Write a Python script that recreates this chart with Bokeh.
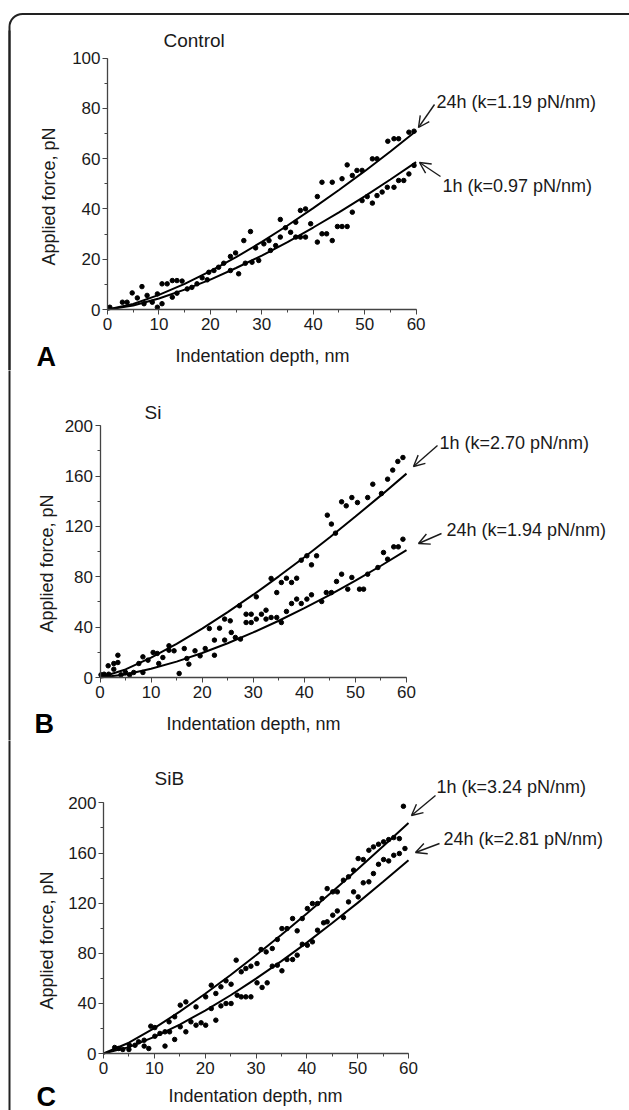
from math import pi
from bokeh.plotting import figure
from bokeh.models import (Range1d, SingleIntervalTicker, Label, Arrow, OpenHead,
                          BoxAnnotation)
from bokeh.layouts import column
from bokeh.embed import file_html
from bokeh.resources import INLINE

# ---------------- data ----------------
fit_depth = [0, 5, 10, 15, 20, 25, 30, 35, 40, 45, 50, 55, 60]

# Panel A - Control
ctrl_fit_24h = [0, 2.2, 5.8, 10.2, 15.3, 20.8, 26.9, 33.4, 40.3, 47.5, 55.0, 62.8, 71.0]
ctrl_fit_1h = [0, 1.6, 4.4, 7.9, 11.9, 16.5, 21.4, 26.8, 32.6, 38.6, 45.0, 51.7, 58.6]
ctrl_24h_x = [0.45, 2.9, 3.8, 4.8, 6.7, 7.7, 9.7, 10.6, 11.6, 12.6, 13.5, 14.5, 17.4, 18.4, 19.7,
              20.7, 21.6, 22.6, 23.9, 24.9, 26.5, 27.8, 28.8, 30.4, 31.4, 33.6, 34.6, 36.6, 37.5,
              38.5, 40.8, 41.7, 43.7, 45.6, 46.6, 47.6, 48.5, 49.5, 51.5, 52.4, 54.5, 55.7, 56.6,
              58.6, 59.6]
ctrl_24h_y = [0.9, 2.9, 2.9, 6.6, 9.1, 5.6, 6.2, 10.2, 10.2, 11.5, 11.5, 11.3, 10.2, 12.6, 14.8,
              15.5, 16.8, 18.4, 21.1, 22.5, 27.4, 31.0, 24.5, 26.1, 27.4, 35.8, 32.5, 34.7, 39.4,
              40.0, 44.9, 50.6, 50.6, 52.0, 57.5, 53.3, 55.3, 55.3, 59.9, 59.9, 66.9, 67.9, 67.9,
              70.5, 70.9]
ctrl_1h_x = [5.8, 7.1, 8.7, 9.7, 10.6, 12.6, 13.5, 15.5, 16.4, 19.4, 23.9, 25.5, 26.8, 28.1, 29.4,
             31.7, 32.7, 33.6, 35.6, 36.6, 37.5, 38.5, 39.5, 40.8, 41.7, 42.6, 43.7, 44.7, 45.6,
             46.6, 47.6, 49.5, 50.5, 51.5, 52.4, 53.4, 54.4, 55.7, 56.6, 57.6, 58.6, 59.6]
ctrl_1h_y = [4.6, 2.3, 2.9, 0.9, 2.3, 4.9, 6.5, 8.2, 8.8, 11.8, 15.5, 14.2, 18.4, 18.8, 19.5,
             23.5, 25.4, 28.8, 30.7, 28.8, 28.8, 28.8, 34.1, 26.8, 30.1, 30.1, 27.4, 33.0, 33.0,
             33.0, 38.7, 43.3, 44.9, 42.3, 45.3, 46.7, 48.6, 48.6, 51.3, 51.3, 53.9, 57.3]

# Panel B - Si
si_fit_1h = [0, 6.4, 15.8, 26.8, 38.9, 52.0, 65.8, 80.4, 95.6, 111.4, 127.9, 144.7, 162.0]
si_fit_24h = [0, 2.4, 6.9, 12.6, 19.5, 27.2, 35.8, 45.1, 55.1, 65.7, 77.0, 88.8, 101.2]
si_1h_x = [0.8, 1.6, 2.7, 3.5, 3.5, 7.6, 8.4, 9.4, 10.4, 11.2, 12.3, 13.5, 13.5, 14.5, 16.5, 21.4,
           22.4, 23.4, 24.4, 25.5, 27.3, 28.6, 29.6, 30.6, 31.6, 32.5, 33.5, 34.6, 35.5, 36.5,
           37.5, 38.5, 39.4, 40.5, 41.4, 42.4, 44.5, 45.3, 46.1, 47.3, 48.2, 49.3, 50.4, 52.4,
           53.4, 55.1, 56.3, 57.3, 58.3, 59.3]
si_1h_y = [2.6, 9.3, 11.1, 17.7, 11.9, 11.1, 16.4, 13.8, 19.9, 19.1, 15.9, 21.7, 25.2, 21.2, 23.0,
           38.9, 29.7, 39.2, 46.4, 45.0, 57.0, 50.3, 50.3, 64.1, 50.3, 53.5, 78.7, 67.5, 75.5,
           78.9, 75.5, 78.9, 93.2, 96.7, 89.5, 96.7, 129.0, 121.9, 114.7, 139.6, 136.4, 143.0,
           139.0, 143.0, 153.6, 146.2, 157.6, 164.8, 171.7, 174.8]
si_24h_x = [0.2, 1.7, 2.7, 4.1, 5.0, 5.8, 6.6, 8.4, 11.5, 15.5, 17.0, 17.4, 18.6, 19.6, 20.6, 22.4,
            24.4, 25.7, 26.5, 27.5, 28.6, 29.6, 30.6, 32.5, 33.5, 34.6, 35.5, 36.5, 37.5, 38.5,
            39.4, 40.5, 41.4, 43.4, 44.3, 45.3, 46.3, 47.3, 48.5, 49.3, 50.8, 51.6, 52.4, 54.4,
            55.5, 56.3, 57.5, 58.4, 59.3]
si_24h_y = [2.1, 2.6, 6.6, 2.1, 4.0, 2.1, 4.0, 4.0, 11.1, 3.2, 15.1, 10.6, 21.2, 17.2, 23.0, 17.7,
            29.7, 35.8, 31.8, 30.5, 43.7, 43.7, 46.4, 46.4, 47.7, 47.7, 43.7, 52.5, 58.8, 62.3,
            58.8, 62.3, 65.7, 60.4, 67.5, 67.5, 76.3, 82.1, 70.2, 79.5, 70.2, 70.2, 82.1, 87.4,
            99.3, 94.0, 103.8, 103.8, 109.9]

# Panel C - SiB
sib_fit_1h = [0, 8.6, 20.3, 33.4, 47.7, 62.6, 78.4, 94.8, 111.8, 129.1, 147.0, 165.4, 184.0]
sib_fit_24h = [0, 5.1, 13.3, 23.1, 34.3, 46.5, 59.7, 73.7, 88.5, 104.1, 120.2, 137.0, 154.3]
sib_1h_x = [2.2, 3.0, 5.1, 6.9, 8.0, 9.3, 10.1, 12.9, 14.0, 15.1, 16.2, 18.2, 20.1, 21.2, 22.1,
            23.1, 24.1, 25.1, 26.1, 27.1, 28.0, 29.0, 30.2, 31.0, 32.0, 33.2, 34.2, 35.1, 36.1,
            37.2, 39.1, 40.1, 41.1, 42.1, 43.0, 44.0, 45.1, 46.0, 47.2, 48.2, 49.2, 50.1, 51.1,
            52.2, 53.1, 54.1, 55.1, 56.1, 57.1, 58.2, 59.0]
sib_1h_y = [4.8, 4.0, 6.6, 9.3, 10.6, 21.8, 20.7, 25.3, 29.3, 38.6, 41.2, 37.2, 45.2, 54.5, 47.9,
            53.2, 58.0, 55.3, 74.5, 65.2, 67.8, 69.7, 71.8, 83.0, 81.1, 83.8, 91.0, 99.7, 99.7,
            107.7, 107.7, 115.7, 119.7, 119.7, 123.7, 131.6, 129.0, 129.0, 138.3, 141.0, 146.3,
            155.6, 154.8, 162.2, 164.9, 167.0, 168.9, 170.7, 172.3, 171.5, 197.3]
sib_24h_x = [3.8, 5.0, 6.2, 8.0, 8.9, 10.1, 11.1, 12.1, 12.1, 13.0, 14.0, 15.1, 16.2, 17.2, 18.2,
             19.2, 20.1, 21.2, 22.1, 23.1, 24.1, 25.1, 26.3, 27.1, 28.0, 29.0, 30.2, 31.2, 32.2,
             33.2, 34.2, 35.1, 36.1, 37.2, 38.1, 38.1, 39.1, 40.1, 41.1, 42.1, 43.3, 44.0, 45.1,
             46.0, 47.2, 48.2, 49.2, 50.1, 51.1, 52.2, 53.1, 54.1, 55.1, 56.1, 57.1, 58.2, 59.3]
sib_24h_y = [3.2, 3.2, 6.6, 5.9, 4.0, 13.8, 16.0, 17.3, 5.9, 17.3, 11.2, 21.3, 17.3, 25.3, 22.6,
             24.5, 22.6, 35.9, 26.6, 38.0, 39.9, 39.9, 46.5, 45.2, 45.2, 45.2, 56.4, 52.7, 56.4,
             69.7, 70.5, 66.0, 75.0, 75.0, 78.5, 97.9, 87.2, 86.4, 89.1, 98.4, 104.3, 105.1,
             110.4, 113.8, 108.5, 121.0, 129.0, 125.0, 136.2, 137.0, 143.6, 151.0, 154.8, 153.7,
             158.2, 159.6, 163.6]

panel_titles = ["Control", "Si", "SiB"]
panel_letters = ["A", "B", "C"]
x_title = "Indentation depth, nm"
y_title = "Applied force, pN"

# ---------------- styling / layout ----------------
FONT = "Liberation Sans"
INK = "#1a1a1a"
AXIS = "#444444"
FRAME = "#222222"
PAGE_W = 629
PAGE_X0 = 0


def make_panel(spec):
    (fig_top, fig_h, ax_left, ax_bottom, sx, sy, y_max, y_step,
     fits, pts, notes, title_pos, ylab_pos, xlab_pos, letter_pos, has_top) = spec
    # page pixel -> data coordinate helpers for this panel
    dx = lambda px: (px - ax_left) / sx
    dy = lambda py: (ax_bottom - py) / sy
    fig_bottom = fig_top + fig_h
    p = figure(width=PAGE_W, height=fig_h, output_backend="svg", toolbar_location=None,
               x_range=Range1d(dx(PAGE_X0), dx(PAGE_X0 + PAGE_W)),
               y_range=Range1d(dy(fig_bottom), dy(fig_top)),
               min_border_left=0, min_border_right=0, min_border_top=0,
               min_border_bottom=0)
    p.grid.visible = False
    p.outline_line_color = None
    p.background_fill_color = "white"
    p.border_fill_color = "white"
    for ax, step, bnd in ((p.xaxis[0], 10, (0, 60)), (p.yaxis[0], y_step, (0, y_max))):
        ax.fixed_location = 0
        ax.ticker = SingleIntervalTicker(interval=step, num_minor_ticks=2)
        ax.bounds = bnd
        ax.axis_line_color = AXIS
        ax.axis_line_width = 1.3
        ax.major_tick_line_color = AXIS
        ax.minor_tick_line_color = AXIS
        ax.major_tick_out = 5
        ax.major_tick_in = 0
        ax.minor_tick_out = 3
        ax.minor_tick_in = 0
        ax.major_label_text_font = FONT
        ax.major_label_text_font_size = "17px"
        ax.major_label_text_color = INK
    p.xaxis.major_label_standoff = 3
    p.yaxis.major_label_standoff = 2

    # outer frame of the whole figure: left edge through every panel,
    # rounded top-left corner and top edge in the first one
    edge_top = 30 if has_top else fig_top - 20
    p.segment(x0=[dx(9)], y0=[dy(edge_top)], x1=[dx(9)], y1=[dy(fig_bottom + 20)],
              line_color=FRAME, line_width=2)
    if has_top:
        p.add_layout(BoxAnnotation(left=dx(9), right=dx(640), top=dy(13.5), bottom=dy(1400),
                                   fill_alpha=0, line_color=FRAME, line_alpha=1.0,
                                   line_width=2, border_radius=(13, 0, 0, 0)))

    for ys in fits:
        p.line(fit_depth, ys, line_color="black", line_width=2)
    for xs, ys in pts:
        p.scatter(xs, ys, size=4.5, color="black")

    for text, tx, ty, (ax0, ay0, ax1, ay1) in notes:
        p.add_layout(Arrow(end=OpenHead(size=11, line_width=1.4, line_color=INK),
                           x_start=dx(ax0), y_start=dy(ay0), x_end=dx(ax1), y_end=dy(ay1),
                           line_width=1.4, line_color=INK))
        p.add_layout(Label(x=dx(tx), y=dy(ty), text=text, text_font=FONT,
                           text_font_size="18px", text_color=INK,
                           text_align="left", text_baseline="middle"))

    p.add_layout(Label(x=dx(title_pos[1]), y=dy(title_pos[2]), text=title_pos[0],
                       text_font=FONT, text_font_size="19px", text_color=INK,
                       text_align="left", text_baseline="middle"))
    p.add_layout(Label(x=dx(ylab_pos[0]), y=dy(ylab_pos[1]), text=y_title, angle=pi / 2,
                       text_font=FONT, text_font_size="18px", text_color=INK,
                       text_align="center", text_baseline="middle"))
    p.add_layout(Label(x=dx(xlab_pos[0]), y=dy(xlab_pos[1]), text=x_title,
                       text_font=FONT, text_font_size="18px", text_color=INK,
                       text_align="center", text_baseline="middle"))
    p.add_layout(Label(x=dx(letter_pos[1]), y=dy(letter_pos[2]), text=letter_pos[0],
                       text_font=FONT, text_font_size="27px", text_font_style="bold",
                       text_color="black", text_align="left", text_baseline="middle"))
    return p


spec_a = (0, 370, 107, 309, 308.6 / 60, 251.5 / 100, 100, 20,
          [ctrl_fit_24h, ctrl_fit_1h],
          [(ctrl_24h_x, ctrl_24h_y), (ctrl_1h_x, ctrl_1h_y)],
          [("24h (k=1.19 pN/nm)", 436, 101, (434, 104, 418, 127)),
           ("1h (k=0.97 pN/nm)", 442, 185, (440, 176, 419, 162))],
          (panel_titles[0], 163, 40), (48, 196), (262, 355), (panel_letters[0], 36, 356), True)

spec_b = (370, 370, 99.5, 677, 306.5 / 60, 251.7 / 200, 200, 40,
          [si_fit_1h, si_fit_24h],
          [(si_1h_x, si_1h_y), (si_24h_x, si_24h_y)],
          [("1h (k=2.70 pN/nm)", 439, 442, (437, 445, 413, 466)),
           ("24h (k=1.94 pN/nm)", 446, 529, (441, 533, 418, 543))],
          (panel_titles[1], 144, 412), (46, 563), (253, 723), (panel_letters[1], 34, 723), False)

spec_c = (740, 370, 103, 1053, 305 / 60, 250.6 / 200, 200, 40,
          [sib_fit_1h, sib_fit_24h],
          [(sib_1h_x, sib_1h_y), (sib_24h_x, sib_24h_y)],
          [("1h (k=3.24 pN/nm)", 436, 786, (435, 795, 411, 815)),
           ("24h (k=2.81 pN/nm)", 443, 838, (439, 843, 415, 852))],
          (panel_titles[2], 154, 778), (46, 940), (255, 1095), (panel_letters[2], 36, 1096), False)

pa = make_panel(spec_a)
pb = make_panel(spec_b)
pc = make_panel(spec_c)

layout = column(pa, pb, pc, spacing=0)
open("out.html", "w").write(file_html(layout, INLINE))
